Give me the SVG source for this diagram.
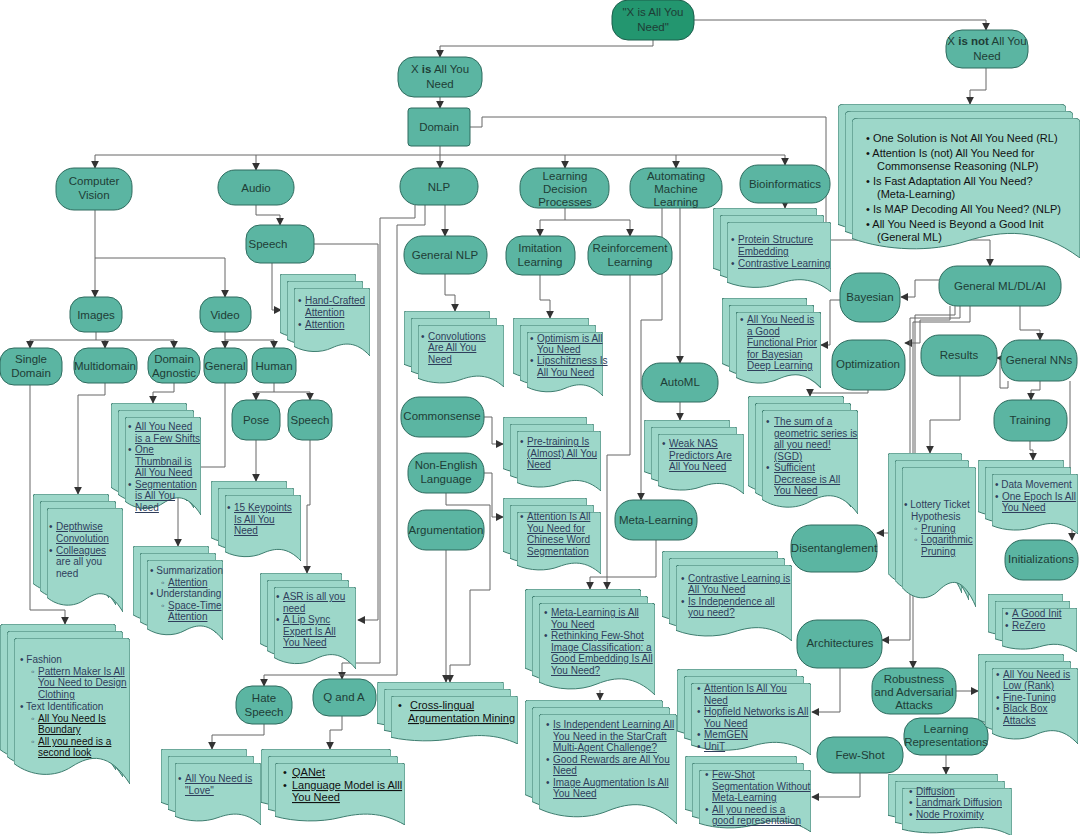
<svg xmlns="http://www.w3.org/2000/svg" xmlns:xlink="http://www.w3.org/1999/xlink" width="1080" height="835" viewBox="0 0 1080 835">
<style>
.nd{fill:#5bb5a2;stroke:#2e6b5e;stroke-width:1}
.rt{fill:#23966f;stroke:#1d5e4c;stroke-width:1}
.dc{fill:#9dd7c9;stroke:#3d7d6f;stroke-width:1}
.n{font-family:"Liberation Sans",Arial,sans-serif;font-size:11.5px;fill:#1e3d36;text-anchor:middle}
.t{font-family:"Liberation Sans",Arial,sans-serif;font-size:10px;fill:#2f3e5c}
.u{text-decoration:underline}
.k{font-family:"Liberation Sans",Arial,sans-serif;font-size:11px;fill:#111}
.c path{fill:none;stroke:#666;stroke-width:1;marker-end:url(#a)}
</style>
<defs>
<marker id="a" viewBox="0 0 10 10" refX="9" refY="5" markerWidth="8" markerHeight="8" orient="auto-start-reverse" markerUnits="userSpaceOnUse"><path d="M0,0 L10,5 L0,10 Z" fill="#333"/></marker>
<symbol id="d" viewBox="0 0 100 100" preserveAspectRatio="none"><path d="M0,3 Q0,0 3,0 H97 Q100,0 100,3 V100 C82,78 66,80 50,88 C35,96 15,95 0,86 Z" class="dc" vector-effect="non-scaling-stroke"/></symbol>
</defs>

<g class="c" id="connectors">
<path d="M653,40 V46 H440 V57"/>
<path d="M694,20 H986 V30"/>
<path d="M986,68 V90 H970 V104"/>
<path d="M440,97 V108"/>
<path d="M440,146 V155 H95 V168"/>
<path d="M256,155 V170"/>
<path d="M440,155 V168"/>
<path d="M440,155 H565 V168"/>
<path d="M565,155 H676 V168"/>
<path d="M676,155 H785 V165"/>
<path d="M470,127 H482 V117 H826 V240 H990 V266"/>
<path d="M95,210 V258 H225 V297"/>
<path d="M95,258 V297"/>
<path d="M96,332 V340 H30 V348"/>
<path d="M96,340 H105 V348"/>
<path d="M105,340 H174 V348"/>
<path d="M225,332 V348"/>
<path d="M225,340 H274 V348"/>
<path d="M274,383 V392 H256 V400"/>
<path d="M274,392 H310 V400"/>
<path d="M256,205 V215 H280 V225"/>
<path d="M272,263 V310 H281"/>
<path d="M314,244 H378 V620 H358"/>
<path d="M105,383 V395 H78 V494"/>
<path d="M174,383 V392 H153 V403"/>
<path d="M30,385 V610 H65 V624"/>
<path d="M225,383 V467 H178 V546"/>
<path d="M256,440 V481"/>
<path d="M310,440 V505 H307 V573"/>
<path d="M415,205 V218 H380 V663 H342 V679"/>
<path d="M425,205 V225 H397 V675 H264 V686"/>
<path d="M264,724 V735 H212 V749"/>
<path d="M342,716 V730 H330 V749"/>
<path d="M445,205 V236"/>
<path d="M445,274 V295 H455 V311"/>
<path d="M484,417 H492 V444 H503"/>
<path d="M484,473 H492 V517 H503"/>
<path d="M446,493 V505 H490 V590 H470 V665 H450 V682"/>
<path d="M446,550 V682"/>
<path d="M565,208 V220 H540 V236"/>
<path d="M565,220 H630 V236"/>
<path d="M540,275 V300 H550 V318"/>
<path d="M630,275 V455 H607 V589"/>
<path d="M656,540 V577 H590 V589"/>
<path d="M600,690 V700"/>
<path d="M662,208 V320 H641 V500"/>
<path d="M680,208 V363"/>
<path d="M680,402 V420"/>
<path d="M785,203 V208"/>
<path d="M939,280 H915 V297 H901"/>
<path d="M840,300 H830 V345 H821"/>
<path d="M950,306 V320 H920 V343 H905"/>
<path d="M868,390 V393 H810 V396"/>
<path d="M955,306 V315 H915 V533 H877"/>
<path d="M960,306 V318 H910 V640 H882"/>
<path d="M970,306 V322 H913 V668"/>
<path d="M960,376 V420 H930 V453"/>
<path d="M1020,306 V330 H1040 V340"/>
<path d="M1008,381 V388 H1000 V358 H997"/>
<path d="M1040,381 V390 H1031 V400"/>
<path d="M1030,441 V450 H1033 V460"/>
<path d="M1070,381 V520 H1072 V540"/>
<path d="M956,691 H978"/>
<path d="M840,668 V712 H812"/>
<path d="M860,773 V797 H812"/>
<path d="M946,755 V774"/>
</g>

<g id="root"><rect class="rt" x="612" y="0" width="82" height="40" rx="16"/><text class="n" x="653" y="16">"X is All You</text><text class="n" x="653" y="31">Need"</text></g>
<g id="xis"><rect class="nd" x="398" y="57" width="84" height="40" rx="16"/><text class="n" x="440" y="73">X <tspan font-weight="bold">is</tspan> All You</text><text class="n" x="440" y="88">Need</text></g>
<g id="xisnot"><rect class="nd" x="946" y="30" width="82" height="38" rx="16"/><text class="n" x="987" y="45">X <tspan font-weight="bold">is not</tspan> All You</text><text class="n" x="987" y="60">Need</text></g>
<g id="domain"><rect class="nd" x="408" y="108" width="62" height="38" rx="3"/><text class="n" x="439" y="131">Domain</text></g>
<g id="cv"><rect class="nd" x="56" y="168" width="76" height="42" rx="18"/><text class="n" x="94" y="185">Computer</text><text class="n" x="94" y="199">Vision</text></g>
<g id="audio"><rect class="nd" x="218" y="170" width="76" height="35" rx="17"/><text class="n" x="256" y="192">Audio</text></g>
<g id="nlp"><rect class="nd" x="400" y="168" width="78" height="37" rx="18"/><text class="n" x="439" y="191">NLP</text></g>
<g id="ldp"><rect class="nd" x="520" y="168" width="89" height="40" rx="18"/><text class="n" x="565" y="180">Learning</text><text class="n" x="565" y="193">Decision</text><text class="n" x="565" y="206">Processes</text></g>
<g id="aml"><rect class="nd" x="630" y="168" width="92" height="40" rx="18"/><text class="n" x="676" y="180">Automating</text><text class="n" x="676" y="193">Machine</text><text class="n" x="676" y="206">Learning</text></g>
<g id="bio"><rect class="nd" x="740" y="165" width="90" height="38" rx="18"/><text class="n" x="785" y="188">Bioinformatics</text></g>
<g id="gml"><rect class="nd" x="939" y="266" width="122" height="40" rx="18"/><text class="n" x="1000" y="290">General ML/DL/AI</text></g>
<g id="speech1"><rect class="nd" x="246" y="225" width="68" height="38" rx="14"/><text class="n" x="268" y="248">Speech</text></g>
<g id="images"><rect class="nd" x="70" y="297" width="52" height="35" rx="14"/><text class="n" x="96" y="319">Images</text></g>
<g id="video"><rect class="nd" x="200" y="297" width="51" height="35" rx="14"/><text class="n" x="225" y="319">Video</text></g>
<g id="single"><rect class="nd" x="0" y="348" width="62" height="37" rx="14"/><text class="n" x="31" y="363">Single</text><text class="n" x="31" y="377">Domain</text></g>
<g id="multi"><rect class="nd" x="74" y="348" width="63" height="35" rx="14"/><text class="n" x="105" y="370">Multidomain</text></g>
<g id="agnostic"><rect class="nd" x="148" y="348" width="52" height="35" rx="14"/><text class="n" x="174" y="363">Domain</text><text class="n" x="174" y="377">Agnostic</text></g>
<g id="general"><rect class="nd" x="204" y="348" width="43" height="35" rx="12"/><text class="n" x="225" y="370">General</text></g>
<g id="human"><rect class="nd" x="252" y="348" width="44" height="35" rx="12"/><text class="n" x="274" y="370">Human</text></g>
<g id="pose"><rect class="nd" x="232" y="400" width="48" height="40" rx="14"/><text class="n" x="256" y="424">Pose</text></g>
<g id="speech2"><rect class="nd" x="288" y="400" width="44" height="40" rx="14"/><text class="n" x="310" y="424">Speech</text></g>
<g id="hate"><rect class="nd" x="236" y="686" width="56" height="38" rx="16"/><text class="n" x="264" y="702">Hate</text><text class="n" x="264" y="716">Speech</text></g>
<g id="qa"><rect class="nd" x="313" y="679" width="63" height="37" rx="16"/><text class="n" x="344" y="701">Q and A</text></g>
<g id="gnlp"><rect class="nd" x="404" y="236" width="83" height="38" rx="18"/><text class="n" x="445" y="259">General NLP</text></g>
<g id="common"><rect class="nd" x="401" y="397" width="83" height="40" rx="18"/><text class="n" x="442" y="420">Commonsense</text></g>
<g id="nonen"><rect class="nd" x="408" y="453" width="76" height="40" rx="18"/><text class="n" x="446" y="469">Non-English</text><text class="n" x="446" y="483">Language</text></g>
<g id="argu"><rect class="nd" x="408" y="510" width="76" height="40" rx="18"/><text class="n" x="446" y="534">Argumentation</text></g>
<g id="imit"><rect class="nd" x="506" y="236" width="69" height="39" rx="16"/><text class="n" x="540" y="252">Imitation</text><text class="n" x="540" y="266">Learning</text></g>
<g id="rl"><rect class="nd" x="588" y="236" width="84" height="39" rx="16"/><text class="n" x="630" y="252">Reinforcement</text><text class="n" x="630" y="266">Learning</text></g>
<g id="automl"><rect class="nd" x="642" y="363" width="76" height="39" rx="18"/><text class="n" x="680" y="386">AutoML</text></g>
<g id="meta"><rect class="nd" x="615" y="500" width="82" height="40" rx="18"/><text class="n" x="656" y="524">Meta-Learning</text></g>
<g id="bayes"><rect class="nd" x="840" y="273" width="60" height="49" rx="20"/><text class="n" x="870" y="301">Bayesian</text></g>
<g id="optim"><rect class="nd" x="832" y="340" width="73" height="50" rx="20"/><text class="n" x="868" y="368">Optimization</text></g>
<g id="results"><rect class="nd" x="921" y="335" width="76" height="41" rx="18"/><text class="n" x="959" y="359">Results</text></g>
<g id="gnns"><rect class="nd" x="1001" y="340" width="76" height="41" rx="18"/><text class="n" x="1039" y="364">General NNs</text></g>
<g id="training"><rect class="nd" x="994" y="400" width="73" height="41" rx="18"/><text class="n" x="1030" y="424">Training</text></g>
<g id="inits"><rect class="nd" x="1005" y="540" width="73" height="40" rx="18"/><text class="n" x="1041" y="563">Initializations</text></g>
<g id="disent"><rect class="nd" x="791" y="525" width="86" height="47" rx="20"/><text class="n" x="834" y="552">Disentanglement</text></g>
<g id="arch"><rect class="nd" x="797" y="620" width="85" height="48" rx="20"/><text class="n" x="840" y="647">Architectures</text></g>
<g id="robust"><rect class="nd" x="872" y="668" width="84" height="46" rx="18"/><text class="n" x="914" y="683">Robustness</text><text class="n" x="914" y="696">and Adversarial</text><text class="n" x="914" y="709">Attacks</text></g>
<g id="lrep"><rect class="nd" x="904" y="718" width="84" height="37" rx="16"/><text class="n" x="946" y="733">Learning</text><text class="n" x="946" y="746">Representations</text></g>
<g id="fewshot"><rect class="nd" x="817" y="737" width="86" height="36" rx="16"/><text class="n" x="860" y="759">Few-Shot</text></g>

<g id="doc-isnot"><use href="#d" x="838" y="104" width="228" height="140"/><use href="#d" x="845" y="111" width="228" height="140"/><use href="#d" x="852" y="118" width="228" height="140"/>
<text class="k"><tspan x="866" y="142">• One Solution is Not All You Need (RL)</tspan><tspan x="866" y="157">• Attention Is (not) All You Need for</tspan><tspan x="877" y="170">Commonsense Reasoning (NLP)</tspan><tspan x="866" y="185">• Is Fast Adaptation All You Need?</tspan><tspan x="877" y="198">(Meta-Learning)</tspan><tspan x="866" y="213">• Is MAP Decoding All You Need? (NLP)</tspan><tspan x="866" y="228">• All You Need is Beyond a Good Init</tspan><tspan x="877" y="241">(General ML)</tspan></text></g>

<g id="doc-hand"><use href="#d" x="280" y="274" width="76" height="68"/><use href="#d" x="287" y="281" width="76" height="68"/><use href="#d" x="294" y="288" width="76" height="68"/>
<text class="t"><tspan x="298" y="304">•</tspan><tspan class="u" x="305" y="304">Hand-Crafted</tspan><tspan class="u" x="305" y="316">Attention</tspan><tspan x="298" y="328">•</tspan><tspan class="u" x="305" y="328">Attention</tspan></text></g>

<g id="doc-agn"><use href="#d" x="111" y="403" width="76" height="98"/><use href="#d" x="118" y="410" width="76" height="98"/><use href="#d" x="125" y="417" width="76" height="98"/>
<text class="t"><tspan x="128" y="430">•</tspan><tspan class="u" x="135" y="430">All You Need</tspan><tspan class="u" x="135" y="442">is a Few Shifts</tspan><tspan x="128" y="453">•</tspan><tspan class="u" x="135" y="453">One</tspan><tspan class="u" x="135" y="465">Thumbnail is</tspan><tspan class="u" x="135" y="476">All You Need</tspan><tspan x="128" y="488">•</tspan><tspan class="u" x="135" y="488">Segmentation</tspan><tspan class="u" x="135" y="499">is All You</tspan><tspan class="u" x="135" y="511">Need</tspan></text></g>

<g id="doc-multi"><use href="#d" x="33" y="494" width="76" height="104"/><use href="#d" x="40" y="501" width="76" height="104"/><use href="#d" x="47" y="508" width="76" height="104"/>
<text class="t"><tspan x="49" y="530">•</tspan><tspan class="u" x="56" y="530">Depthwise</tspan><tspan class="u" x="56" y="542">Convolution</tspan><tspan x="49" y="554">•</tspan><tspan class="u" x="56" y="554">Colleagues</tspan><tspan x="56" y="565">are all you</tspan><tspan x="56" y="577">need</tspan></text></g>

<g id="doc-fashion"><use href="#d" x="0" y="624" width="116" height="146"/><use href="#d" x="7" y="631" width="116" height="146"/><use href="#d" x="14" y="638" width="116" height="146"/>
<text class="t"><tspan x="20" y="663">• Fashion</tspan><tspan x="31" y="675">◦</tspan><tspan class="u" x="38" y="675">Pattern Maker Is All</tspan><tspan class="u" x="38" y="686">You Need to Design</tspan><tspan class="u" x="38" y="698">Clothing</tspan><tspan x="20" y="710">• Text Identification</tspan><tspan x="31" y="722">◦</tspan><tspan class="u" x="38" y="722" fill="#111">All You Need Is</tspan><tspan class="u" x="38" y="733" fill="#111">Boundary</tspan><tspan x="31" y="745">◦</tspan><tspan class="u" x="38" y="745" fill="#111">All you need is a</tspan><tspan class="u" x="38" y="756" fill="#111">second look</tspan></text></g>

<g id="doc-summ"><use href="#d" x="133" y="546" width="76" height="80"/><use href="#d" x="140" y="553" width="76" height="80"/><use href="#d" x="147" y="560" width="76" height="80"/>
<text class="t"><tspan x="150" y="574">• Summarization</tspan><tspan x="161" y="586">◦</tspan><tspan class="u" x="168" y="586">Attention</tspan><tspan x="150" y="597">• Understanding</tspan><tspan x="161" y="609">◦</tspan><tspan class="u" x="168" y="609">Space-Time</tspan><tspan class="u" x="168" y="620">Attention</tspan></text></g>

<g id="doc-key"><use href="#d" x="211" y="481" width="76" height="66"/><use href="#d" x="218" y="488" width="76" height="66"/><use href="#d" x="225" y="495" width="76" height="66"/>
<text class="t"><tspan x="227" y="511">•</tspan><tspan class="u" x="234" y="511">15 Keypoints</tspan><tspan class="u" x="234" y="523">Is All You</tspan><tspan class="u" x="234" y="534">Need</tspan></text></g>

<g id="doc-asr"><use href="#d" x="260" y="573" width="82" height="82"/><use href="#d" x="267" y="580" width="82" height="82"/><use href="#d" x="274" y="587" width="82" height="82"/>
<text class="t"><tspan x="276" y="600">•</tspan><tspan class="u" x="283" y="600">ASR is all you</tspan><tspan class="u" x="283" y="612">need</tspan><tspan x="276" y="623">•</tspan><tspan class="u" x="283" y="623">A Lip Sync</tspan><tspan class="u" x="283" y="635">Expert Is All</tspan><tspan class="u" x="283" y="646">You Need</tspan></text></g>

<g id="doc-love"><use href="#d" x="161" y="749" width="86" height="62"/><use href="#d" x="168" y="756" width="86" height="62"/><use href="#d" x="175" y="763" width="86" height="62"/>
<text class="t"><tspan x="178" y="782">•</tspan><tspan class="u" x="185" y="782">All You Need is</tspan><tspan class="u" x="185" y="794">"Love"</tspan></text></g>

<g id="doc-qa"><use href="#d" x="261" y="749" width="130" height="62"/><use href="#d" x="268" y="756" width="130" height="62"/><use href="#d" x="275" y="763" width="130" height="62"/>
<text class="k"><tspan x="283" y="776">•</tspan><tspan class="u" x="292" y="776">QANet</tspan><tspan x="283" y="789">•</tspan><tspan class="u" x="292" y="789">Language Model is Alll</tspan><tspan class="u" x="292" y="801">You Need</tspan></text></g>

<g id="doc-gnlp"><use href="#d" x="404" y="311" width="86" height="62"/><use href="#d" x="411" y="318" width="86" height="62"/><use href="#d" x="418" y="325" width="86" height="62"/>
<text class="t"><tspan x="421" y="340">•</tspan><tspan class="u" x="428" y="340">Convolutions</tspan><tspan class="u" x="428" y="351">Are All You</tspan><tspan class="u" x="428" y="363">Need</tspan></text></g>

<g id="doc-imit"><use href="#d" x="513" y="318" width="76" height="64"/><use href="#d" x="520" y="325" width="76" height="64"/><use href="#d" x="527" y="332" width="76" height="64"/>
<text class="t"><tspan x="530" y="342">•</tspan><tspan class="u" x="537" y="342">Optimism is All</tspan><tspan class="u" x="537" y="353">You Need</tspan><tspan x="530" y="364">•</tspan><tspan class="u" x="537" y="364">Lipschitzness Is</tspan><tspan class="u" x="537" y="376">All You Need</tspan></text></g>

<g id="doc-common"><use href="#d" x="503" y="417" width="84" height="60"/><use href="#d" x="510" y="424" width="84" height="60"/><use href="#d" x="517" y="431" width="84" height="60"/>
<text class="t"><tspan x="520" y="445">•</tspan><tspan class="u" x="527" y="445">Pre-training Is</tspan><tspan class="u" x="527" y="457">(Almost) All You</tspan><tspan class="u" x="527" y="468">Need</tspan></text></g>

<g id="doc-chinese"><use href="#d" x="503" y="498" width="84" height="62"/><use href="#d" x="510" y="505" width="84" height="62"/><use href="#d" x="517" y="512" width="84" height="62"/>
<text class="t"><tspan x="520" y="520">•</tspan><tspan class="u" x="527" y="520">Attention Is All</tspan><tspan class="u" x="527" y="532">You Need for</tspan><tspan class="u" x="527" y="543">Chinese Word</tspan><tspan class="u" x="527" y="555">Segmentation</tspan></text></g>

<g id="doc-argu"><use href="#d" x="377" y="682" width="127" height="48"/><use href="#d" x="384" y="689" width="127" height="48"/><use href="#d" x="391" y="696" width="127" height="48"/>
<text class="k"><tspan x="398" y="709">•</tspan><tspan class="u" x="410" y="709">Cross-lingual</tspan><tspan class="u" x="408" y="722">Argumentation Mining</tspan></text></g>

<g id="doc-meta"><use href="#d" x="525" y="589" width="116" height="92"/><use href="#d" x="532" y="596" width="116" height="92"/><use href="#d" x="539" y="603" width="116" height="92"/>
<text class="t"><tspan x="544" y="616">•</tspan><tspan class="u" x="551" y="616">Meta-Learning is All</tspan><tspan class="u" x="551" y="628">You Need</tspan><tspan x="544" y="639">•</tspan><tspan class="u" x="551" y="639">Rethinking Few-Shot</tspan><tspan class="u" x="551" y="651">Image Classification: a</tspan><tspan class="u" x="551" y="662">Good Embedding Is All</tspan><tspan class="u" x="551" y="674">You Need?</tspan></text></g>

<g id="doc-rl"><use href="#d" x="525" y="700" width="138" height="110"/><use href="#d" x="532" y="707" width="138" height="110"/><use href="#d" x="539" y="714" width="138" height="110"/>
<text class="t"><tspan x="546" y="728">•</tspan><tspan class="u" x="553" y="728">Is Independent Learning All</tspan><tspan class="u" x="553" y="740">You Need in the StarCraft</tspan><tspan class="u" x="553" y="751">Multi-Agent Challenge?</tspan><tspan x="546" y="763">•</tspan><tspan class="u" x="553" y="763">Good Rewards are All You</tspan><tspan class="u" x="553" y="774">Need</tspan><tspan x="546" y="786">•</tspan><tspan class="u" x="553" y="786">Image Augmentation Is All</tspan><tspan class="u" x="553" y="797">You Need</tspan></text></g>

<g id="doc-automl"><use href="#d" x="644" y="420" width="86" height="60"/><use href="#d" x="651" y="427" width="86" height="60"/><use href="#d" x="658" y="434" width="86" height="60"/>
<text class="t"><tspan x="662" y="447">•</tspan><tspan class="u" x="669" y="447">Weak NAS</tspan><tspan class="u" x="669" y="459">Predictors Are</tspan><tspan class="u" x="669" y="470">All You Need</tspan></text></g>

<g id="doc-contrast"><use href="#d" x="662" y="551" width="116" height="76"/><use href="#d" x="669" y="558" width="116" height="76"/><use href="#d" x="676" y="565" width="116" height="76"/>
<text class="t"><tspan x="681" y="582">•</tspan><tspan class="u" x="688" y="582">Contrastive Learning is</tspan><tspan class="u" x="688" y="593">All You Need</tspan><tspan x="681" y="605">•</tspan><tspan class="u" x="688" y="605">Is Independence all</tspan><tspan class="u" x="688" y="616">you need?</tspan></text></g>

<g id="doc-bio"><use href="#d" x="713" y="208" width="104" height="70"/><use href="#d" x="720" y="215" width="104" height="70"/><use href="#d" x="727" y="222" width="104" height="70"/>
<text class="t"><tspan x="731" y="243">•</tspan><tspan class="u" x="738" y="243">Protein Structure</tspan><tspan class="u" x="738" y="255">Embedding</tspan><tspan x="731" y="267">•</tspan><tspan class="u" x="738" y="267">Contrastive Learning</tspan></text></g>

<g id="doc-bayes"><use href="#d" x="722" y="298" width="85" height="76"/><use href="#d" x="729" y="305" width="85" height="76"/><use href="#d" x="736" y="312" width="85" height="76"/>
<text class="t"><tspan x="740" y="323">•</tspan><tspan class="u" x="747" y="323">All You Need is</tspan><tspan class="u" x="747" y="335">a Good</tspan><tspan class="u" x="747" y="346">Functional Prior</tspan><tspan class="u" x="747" y="358">for Bayesian</tspan><tspan class="u" x="747" y="369">Deep Learning</tspan></text></g>

<g id="doc-optim"><use href="#d" x="748" y="396" width="96" height="104"/><use href="#d" x="755" y="403" width="96" height="104"/><use href="#d" x="762" y="410" width="96" height="104"/>
<text class="t"><tspan x="766" y="425">•</tspan><tspan class="u" x="774" y="425">The sum of a</tspan><tspan class="u" x="774" y="437">geometric series is</tspan><tspan class="u" x="774" y="448">all you need!</tspan><tspan class="u" x="774" y="460">(SGD)</tspan><tspan x="766" y="471">•</tspan><tspan class="u" x="774" y="471">Sufficient</tspan><tspan class="u" x="774" y="483">Decrease is All</tspan><tspan class="u" x="774" y="494">You Need</tspan></text></g>

<g id="doc-lottery"><use href="#d" x="888" y="453" width="74" height="140"/><use href="#d" x="895" y="460" width="74" height="140"/><use href="#d" x="902" y="467" width="74" height="140"/>
<text class="t"><tspan x="904" y="508">• Lottery Ticket</tspan><tspan x="911" y="520">Hypothesis</tspan><tspan x="914" y="532">◦</tspan><tspan class="u" x="921" y="532">Pruning</tspan><tspan x="914" y="543">◦</tspan><tspan class="u" x="921" y="543">Logarithmic</tspan><tspan class="u" x="921" y="555">Pruning</tspan></text></g>

<g id="doc-training"><use href="#d" x="978" y="460" width="86" height="60"/><use href="#d" x="985" y="467" width="86" height="60"/><use href="#d" x="992" y="474" width="86" height="60"/>
<text class="t"><tspan x="995" y="488">• Data Movement</tspan><tspan x="995" y="500">•</tspan><tspan class="u" x="1002" y="500">One Epoch Is All</tspan><tspan class="u" x="1002" y="511">You Need</tspan></text></g>

<g id="doc-init"><use href="#d" x="988" y="594" width="75" height="44"/><use href="#d" x="995" y="601" width="75" height="44"/><use href="#d" x="1002" y="608" width="75" height="44"/>
<text class="t"><tspan x="1005" y="617">•</tspan><tspan class="u" x="1012" y="617">A Good Init</tspan><tspan x="1005" y="629">•</tspan><tspan class="u" x="1012" y="629">ReZero</tspan></text></g>

<g id="doc-arch"><use href="#d" x="677" y="669" width="120" height="72"/><use href="#d" x="684" y="676" width="120" height="72"/><use href="#d" x="691" y="683" width="120" height="72"/>
<text class="t"><tspan x="697" y="692">•</tspan><tspan class="u" x="704" y="692">Attention Is All You</tspan><tspan class="u" x="704" y="704">Need</tspan><tspan x="697" y="715">•</tspan><tspan class="u" x="704" y="715">Hopfield Networks is All</tspan><tspan class="u" x="704" y="727">You Need</tspan><tspan x="697" y="738">•</tspan><tspan class="u" x="704" y="738">MemGEN</tspan><tspan x="697" y="750">•</tspan><tspan class="u" x="704" y="750">UniT</tspan></text></g>

<g id="doc-robust"><use href="#d" x="978" y="654" width="86" height="76"/><use href="#d" x="985" y="661" width="86" height="76"/><use href="#d" x="992" y="668" width="86" height="76"/>
<text class="t"><tspan x="996" y="678">•</tspan><tspan class="u" x="1003" y="678">All You Need is</tspan><tspan class="u" x="1003" y="689">Low (Rank)</tspan><tspan x="996" y="701">•</tspan><tspan class="u" x="1003" y="701">Fine-Tuning</tspan><tspan x="996" y="712">•</tspan><tspan class="u" x="1003" y="712">Black Box</tspan><tspan class="u" x="1003" y="724">Attacks</tspan></text></g>

<g id="doc-fewshot"><use href="#d" x="685" y="756" width="112" height="62"/><use href="#d" x="692" y="763" width="112" height="62"/><use href="#d" x="699" y="770" width="112" height="62"/>
<text class="t"><tspan x="705" y="778">•</tspan><tspan class="u" x="712" y="778">Few-Shot</tspan><tspan class="u" x="712" y="790">Segmentation Without</tspan><tspan class="u" x="712" y="801">Meta-Learning</tspan><tspan x="705" y="813">•</tspan><tspan class="u" x="712" y="813">All you need is a</tspan><tspan class="u" x="712" y="824">good representation</tspan></text></g>

<g id="doc-lrep"><use href="#d" x="888" y="774" width="110" height="48"/><use href="#d" x="895" y="781" width="110" height="48"/><use href="#d" x="902" y="788" width="110" height="48"/>
<text class="t"><tspan x="909" y="795">•</tspan><tspan class="u" x="916" y="795">Diffusion</tspan><tspan x="909" y="806">•</tspan><tspan class="u" x="916" y="806">Landmark Diffusion</tspan><tspan x="909" y="818">•</tspan><tspan class="u" x="916" y="818">Node Proximity</tspan></text></g>
</svg>
